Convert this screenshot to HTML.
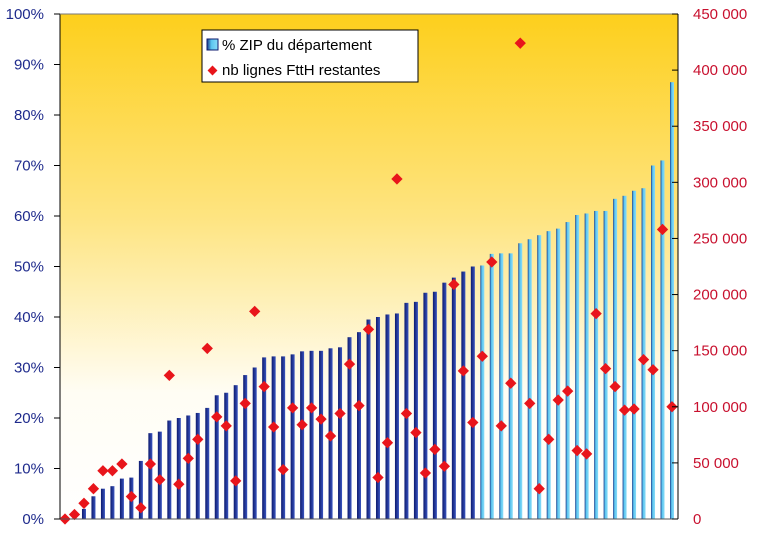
<!DOCTYPE html>
<html><head><meta charset="utf-8"><style>
body{margin:0;background:#fff;width:769px;height:536px;overflow:hidden}
svg{display:block;font-family:"Liberation Sans",sans-serif}
</style></head><body>
<svg id="chart" width="769" height="536" viewBox="0 0 769 536">
<defs>
<linearGradient id="bg" x1="0" y1="0" x2="0" y2="1">
<stop offset="0" stop-color="#fdcf1c"/><stop offset="0.4" stop-color="#fee480"/><stop offset="0.75" stop-color="#fffdf4"/><stop offset="1" stop-color="#ffffff"/>
</linearGradient>
<linearGradient id="darkbar" x1="0" y1="0" x2="1" y2="0"><stop offset="0" stop-color="#0d1a6e"/><stop offset="1" stop-color="#3a55c0"/></linearGradient>
<linearGradient id="lightbar" x1="0" y1="0" x2="1" y2="0"><stop offset="0" stop-color="#1a3a8a"/><stop offset="0.4" stop-color="#5cc6f0"/><stop offset="1" stop-color="#8adcf8"/></linearGradient>
</defs>
<rect x="60" y="14" width="618" height="505" fill="url(#bg)"/>
<g id="bars"></g><g id="points"></g><g id="axes"></g>
<g>
<rect x="202" y="30" width="216" height="52" fill="#fff" stroke="#000" stroke-width="1"/>
<rect x="207" y="39" width="11" height="11" fill="url(#lightbar)" stroke="#0d1a6e"/>
<text x="222" y="50" font-size="15" fill="#000">% ZIP du département</text>
<rect x="209" y="67" width="7" height="7" fill="#e8151b" transform="rotate(45 212.5 70.5)"/>
<text x="222" y="75" font-size="15" fill="#000">nb lignes FttH restantes</text>
</g>
</svg>
<script>
const pctValues=[0,0.5,2,4.5,6,6.5,8,8.2,11.5,17,17.3,19.5,20,20.5,21,22,24.5,25,26.5,28.5,30,32,32.2,32.2,32.6,33.2,33.3,33.3,33.8,34,36,37,39.5,40,40.5,40.7,42.8,43,44.8,45,46.8,47.8,49,50,50.2,52.5,52.6,52.6,54.6,55.4,56.2,57,57.5,58.8,60.2,60.5,61,61,63.4,64,65,65.5,70,71,86.5];
const lineValues=[0,4000,14000,27000,43000,43000,49000,20000,10000,49000,35000,128000,31000,54000,71000,152000,91000,83000,34000,103000,185000,118000,82000,44000,99000,84000,99000,89000,74000,94000,138000,101000,169000,37000,68000,303000,94000,77000,41000,62000,47000,209000,132000,86000,145000,229000,83000,121000,424000,103000,27000,71000,106000,114000,61000,58000,183000,134000,118000,97000,98000,142000,133000,258000,100000];
const leftTicks=[0,10,20,30,40,50,60,70,80,90,100];
const rightTicks=[0,50000,100000,150000,200000,250000,300000,350000,400000,450000];
const lightStart=44;
const NS="http://www.w3.org/2000/svg";
const X0=60,X1=678,Y0=519,Y1=14;
function xPos(i){return 65+i*(672-65)/(pctValues.length-1);}
function yL(v){return Y0-(v/100)*(Y0-Y1);}
function yR(v){return Y0-(v/450000)*(Y0-Y1);}
function mk(tag,attrs,parent){const e=document.createElementNS(NS,tag);for(const k in attrs)e.setAttribute(k,attrs[k]);parent.appendChild(e);return e;}
const gb=document.getElementById('bars'),gp=document.getElementById('points'),ga=document.getElementById('axes');
pctValues.forEach((v,i)=>{
  const y=yL(v);
  const r=mk('rect',{x:xPos(i)-2,y:y,width:4,height:Y0-y,fill:i>=lightStart?'url(#lightbar)':'url(#darkbar)'},gb);
  
  
});
lineValues.forEach((v,i)=>{
  const cx=xPos(i),cy=yR(v);
  const p=mk('rect',{x:cx-4,y:cy-4,width:8,height:8,fill:'#e8151b',transform:`rotate(45 ${cx} ${cy})`},gp);
  
  
});
mk('line',{x1:X0,y1:Y1,x2:X0,y2:Y0,stroke:'#000'},ga);
mk('line',{x1:X1,y1:Y1,x2:X1,y2:Y0,stroke:'#000'},ga);
mk('line',{x1:X0-6,y1:Y0,x2:X1,y2:Y0,stroke:'#555'},ga);
mk('line',{x1:X0,y1:Y1,x2:X1,y2:Y1,stroke:'#777'},ga);
leftTicks.forEach(t=>{
  const y=yL(t);
  mk('line',{x1:X0-6,y1:y,x2:X0,y2:y,stroke:'#000'},ga);
  const tx=mk('text',{x:44,y:y+5,'text-anchor':'end','font-size':15,fill:'#1e2a8c'},ga);
  tx.textContent=t+'%';
  
  
});
rightTicks.forEach(t=>{
  const y=yR(t);
  mk('line',{x1:X1-6,y1:y,x2:X1,y2:y,stroke:'#000'},ga);
  const tx=mk('text',{x:693,y:y+5,'font-size':15,fill:'#c8102e'},ga);
  tx.textContent=t===0?'0':String(t).replace(/\B(?=(\d{3})+(?!\d))/g,' ');
  
  
});
</script>
</body></html>
